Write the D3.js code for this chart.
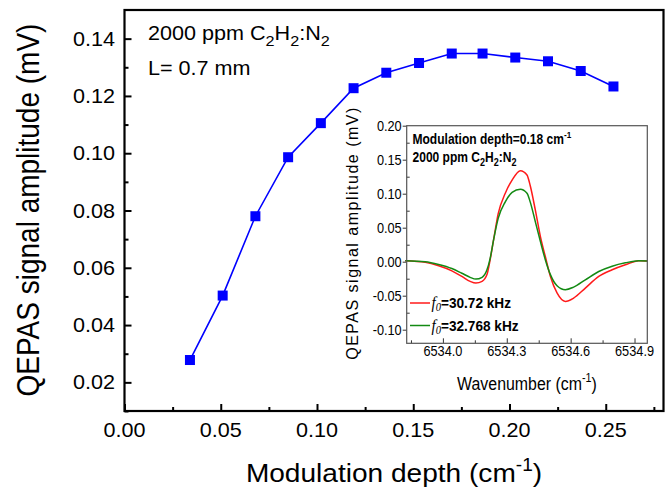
<!DOCTYPE html>
<html>
<head>
<meta charset="utf-8">
<script src="https://cdn.jsdelivr.net/npm/d3@7"></script>
<style>
body { margin: 0; background: #fff; }
text { font-family: "Liberation Sans", Arial, sans-serif; fill: #000; }
</style>
</head>
<body>
<svg id="chart" width="667" height="490"></svg>
<script>
// main plot: signal vs modulation depth
const depth = [0.034, 0.051, 0.068, 0.085, 0.102, 0.119, 0.136, 0.153, 0.170, 0.186, 0.203, 0.220, 0.237, 0.254];
const amplitude = [0.0278, 0.0503, 0.0780, 0.0986, 0.1105, 0.1227, 0.1281, 0.1315, 0.1348, 0.1348, 0.1334, 0.1321, 0.1287, 0.1233];
const xTicks = [0.00, 0.05, 0.10, 0.15, 0.20, 0.25];
const yTicks = [0.02, 0.04, 0.06, 0.08, 0.10, 0.12, 0.14];

// inset: 2f spectra
const wavenumber = [6533.823, 6533.917, 6533.98, 6534.042, 6534.089, 6534.128, 6534.155, 6534.184, 6534.207, 6534.222, 6534.238, 6534.26, 6534.293, 6534.325, 6534.364, 6534.395, 6534.41, 6534.434, 6534.458, 6534.481, 6534.505, 6534.536, 6534.575, 6534.614, 6534.669, 6534.732, 6534.795, 6534.857, 6534.92, 6534.96];
const signal3072 = [0.0013, -0.001, -0.006, -0.0134, -0.0217, -0.029, -0.0315, -0.029, -0.019, 0.003, 0.032, 0.071, 0.1007, 0.120, 0.1339, 0.1276, 0.112, 0.0762, 0.037, 0.0076, -0.0217, -0.046, -0.0584, -0.0535, -0.0388, -0.0217, -0.0119, -0.0046, 0.0013, 0.001];
const signal32768 = [0.0015, 0.000, -0.004, -0.010, -0.017, -0.023, -0.0256, -0.023, -0.012, 0.005, 0.032, 0.064, 0.088, 0.102, 0.1066, 0.1007, 0.088, 0.059, 0.0297, 0.003, -0.019, -0.0354, -0.0413, -0.0374, -0.0266, -0.0144, -0.0066, -0.0017, 0.0013, 0.001];
const insetXTicks = [6534.0, 6534.3, 6534.6, 6534.9];
const insetYTicks = [-0.10, -0.05, 0.00, 0.05, 0.10, 0.15, 0.20];

const svg = d3.select('#chart');

// text with sub/superscripts, parts = [[text, 'sub'|'sup'|undefined], ...]
function rich(text, parts, size, small = 0.68) {
    let off = 0;
    parts.forEach(p => {
        const target = p[1] === 'sub' ? size * 0.3 : p[1] === 'sup' ? -size * 0.42 : 0;
        text.append('tspan')
            .attr('dy', target - off)
            .attr('font-size', p[1] ? size * small : size)
            .text(p[0]);
        off = target;
    });
}

// label in its own group so it can be stretched a little
function label(x, y, sx, anchor, size) {
    return svg.append('g')
        .attr('transform', `translate(${x},${y}) scale(${sx},1)`)
        .append('text')
        .attr('text-anchor', anchor)
        .attr('font-size', size);
}

//---------------- main plot ----------------
const x = d3.scaleLinear().domain([0, 0.28]).range([124.5, 663.5]);
const y = d3.scaleLinear().domain([0.01, 0.15]).range([411, 10]);

const mainG = svg.append('g');

mainG.append('g')
    .attr('transform', `translate(0,${y.range()[0]})`)
    .call(d3.axisBottom(x).tickValues(d3.range(0.025, 0.28, 0.05)).tickSize(-4).tickFormat(''));
mainG.append('g')
    .attr('transform', `translate(0,${y.range()[0]})`)
    .call(d3.axisBottom(x).tickValues(xTicks).tickSize(-7).tickFormat(''));
mainG.append('g')
    .attr('transform', `translate(${x.range()[0]},0)`)
    .call(d3.axisLeft(y).tickValues(d3.range(0.01, 0.15, 0.02)).tickSize(-4).tickFormat(''));
mainG.append('g')
    .attr('transform', `translate(${x.range()[0]},0)`)
    .call(d3.axisLeft(y).tickValues(yTicks).tickSize(-7).tickFormat(''));
mainG.selectAll('.domain').remove();
mainG.selectAll('.tick line').attr('stroke', '#000').attr('stroke-width', 2);

// frame
svg.append('rect')
    .attr('x', x.range()[0]).attr('y', y.range()[1])
    .attr('width', x.range()[1] - x.range()[0])
    .attr('height', y.range()[0] - y.range()[1])
    .attr('fill', 'none').attr('stroke', '#000').attr('stroke-width', 2.2);

xTicks.forEach(t => label(x(t), 436.5, 1.08, 'middle', 20).text(t.toFixed(2)));
yTicks.forEach(t => label(115, y(t) + 7, 1.08, 'end', 20).text(t.toFixed(2)));

// axis titles
rich(label(394, 481.5, 1.08, 'middle', 26), [['Modulation depth (cm'], ['-1', 'sup'], [')']], 26);
svg.append('text')
    .attr('transform', 'translate(39,210) rotate(-90) scale(1,1.1)')
    .attr('text-anchor', 'middle')
    .attr('font-size', 28)
    .text('QEPAS signal amplitude (mV)');

// annotations
rich(label(148, 40, 1.08, 'start', 20), [['2000 ppm C'], ['2', 'sub'], ['H'], ['2', 'sub'], [':N'], ['2', 'sub']], 20, 0.75);
label(148, 75, 1.08, 'start', 20).text('L= 0.7 mm');

// data
const pts = depth.map((d, i) => [d, amplitude[i]]);
svg.append('path')
    .datum(pts)
    .attr('fill', 'none')
    .attr('stroke', '#0000ff')
    .attr('stroke-width', 1.6)
    .attr('d', d3.line().x(d => x(d[0])).y(d => y(d[1])));
svg.selectAll('.marker')
    .data(pts)
    .join('rect')
    .attr('class', 'marker')
    .attr('x', d => x(d[0]) - 5)
    .attr('y', d => y(d[1]) - 5)
    .attr('width', 10).attr('height', 10)
    .attr('fill', '#0000ff');

//---------------- inset ----------------
const ix = d3.scaleLinear().domain([6533.83, 6534.96]).range([406.7, 647.3]);
const iy = d3.scaleLinear().domain([-0.12, 0.20]).range([343.3, 125.7]);

svg.append('rect')
    .attr('x', ix.range()[0]).attr('y', iy.range()[1])
    .attr('width', ix.range()[1] - ix.range()[0])
    .attr('height', iy.range()[0] - iy.range()[1])
    .attr('fill', '#fff');

const insetG = svg.append('g');
insetG.append('g')
    .attr('transform', `translate(0,${iy.range()[0]})`)
    .call(d3.axisBottom(ix).tickValues([6533.85, 6534.15, 6534.45, 6534.75]).tickSize(-3).tickFormat(''));
insetG.append('g')
    .attr('transform', `translate(0,${iy.range()[0]})`)
    .call(d3.axisBottom(ix).tickValues(insetXTicks).tickSize(-5).tickFormat(''));
insetG.append('g')
    .attr('transform', `translate(${ix.range()[0]},0)`)
    .call(d3.axisLeft(iy).tickValues(d3.range(-0.075, 0.2, 0.05)).tickSize(-3).tickFormat(''));
insetG.append('g')
    .attr('transform', `translate(${ix.range()[0]},0)`)
    .call(d3.axisLeft(iy).tickValues(insetYTicks).tickSize(4).tickFormat(''));
insetG.selectAll('.domain').remove();
insetG.selectAll('.tick line').attr('stroke', '#333').attr('stroke-width', 1);

insetXTicks.forEach(t => label(ix(t), 355.5, 0.88, 'middle', 14.5).text(t.toFixed(1)));
insetYTicks.forEach(t => label(401.7, iy(t) + 5, 0.88, 'end', 14.5).text(t.toFixed(2)));

rich(label(527, 390, 0.86, 'middle', 18.5), [['Wavenumber (cm'], ['-1', 'sup'], [')']], 18.5);
svg.append('text')
    .attr('transform', 'translate(358,233) rotate(-90)')
    .attr('text-anchor', 'middle')
    .attr('font-size', 16)
    .attr('letter-spacing', 1.5)
    .text('QEPAS signal amplitude (mV)');

const iline = d3.line().curve(d3.curveMonotoneX).x(d => ix(d[0])).y(d => iy(d[1]));
const series = [
    {values: signal3072, color: '#ff1a1a', name: '30.72 kHz'},
    {values: signal32768, color: '#138a13', name: '32.768 kHz'}
];
series.forEach(s => {
    svg.append('path')
        .datum(wavenumber.map((w, i) => [w, s.values[i]]))
        .attr('fill', 'none')
        .attr('stroke', s.color)
        .attr('stroke-width', 1.5)
        .attr('d', iline);
});

svg.append('rect')
    .attr('x', ix.range()[0]).attr('y', iy.range()[1])
    .attr('width', ix.range()[1] - ix.range()[0])
    .attr('height', iy.range()[0] - iy.range()[1])
    .attr('fill', 'none').attr('stroke', '#555').attr('stroke-width', 1.2);

// inset annotations
const t1 = label(412.5, 144, 0.86, 'start', 14).attr('font-weight', 'bold');
rich(t1, [['Modulation depth=0.18 cm'], ['-1', 'sup']], 14);
const t2 = label(412.5, 162, 0.86, 'start', 14).attr('font-weight', 'bold');
rich(t2, [['2000 ppm C'], ['2', 'sub'], ['H'], ['2', 'sub'], [':N'], ['2', 'sub']], 14, 0.75);

// legend
series.forEach((s, i) => {
    const ly = 303 + i * 22.5;
    svg.append('line')
        .attr('x1', 410).attr('x2', 430)
        .attr('y1', ly).attr('y2', ly)
        .attr('stroke', s.color).attr('stroke-width', 1.5);
    const t = label(431.5, ly + 5, 0.88, 'start', 15.5).attr('font-weight', 'bold');
    t.append('tspan').attr('font-family', '"Liberation Serif", "Times New Roman", serif')
        .attr('font-style', 'italic').attr('font-weight', 'normal').attr('font-size', 17).text('f');
    t.append('tspan').attr('font-family', '"Liberation Serif", "Times New Roman", serif')
        .attr('font-style', 'italic').attr('font-weight', 'normal').attr('font-size', 12).attr('dy', 3).text('0');
    t.append('tspan').attr('dy', -3).text('=' + s.name);
});
</script>
</body>
</html>
